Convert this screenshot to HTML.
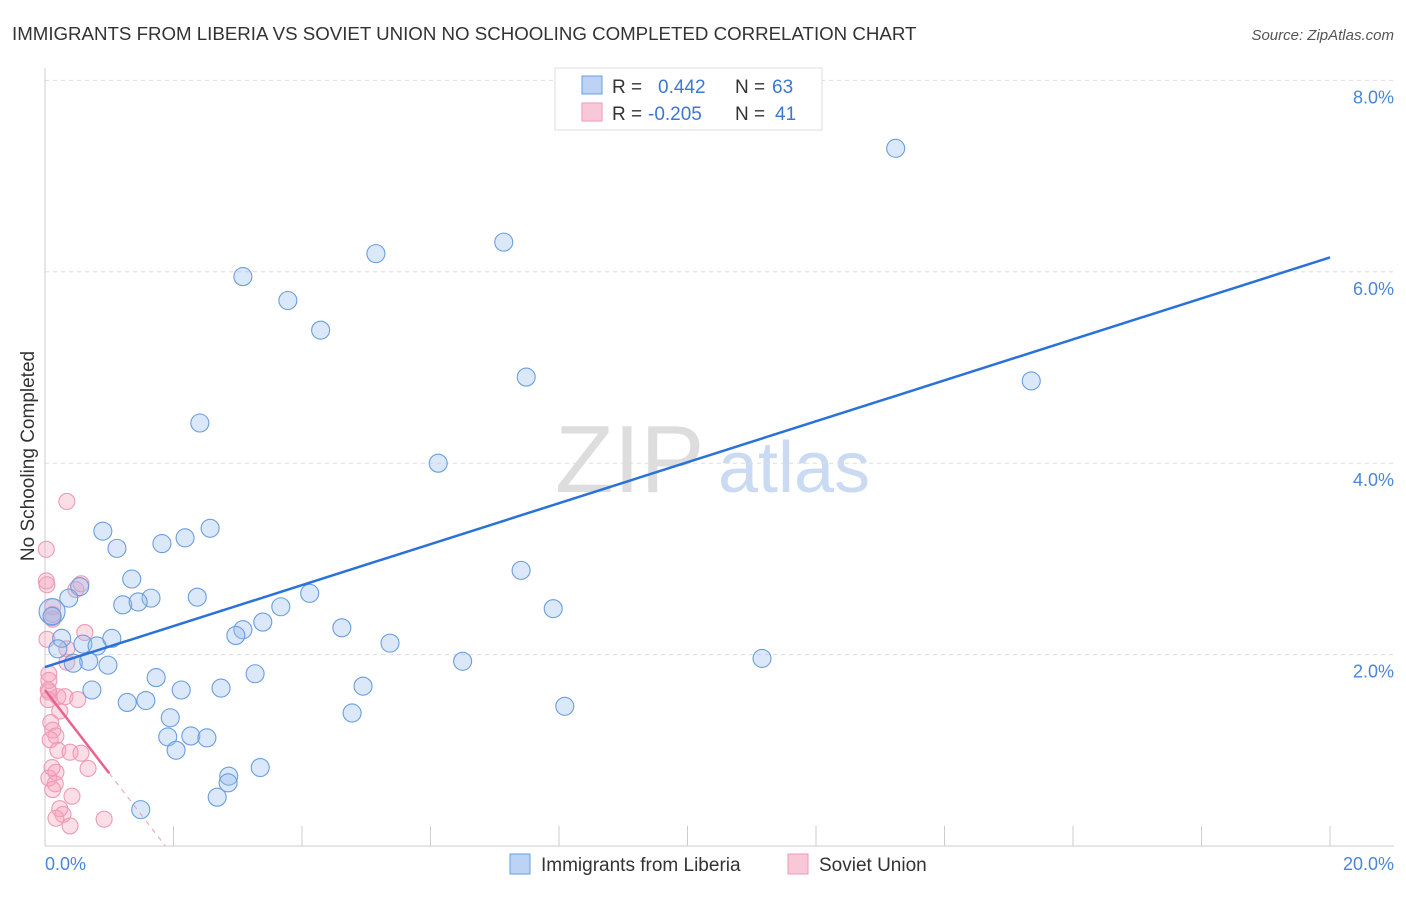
<!DOCTYPE html>
<html><head><meta charset="utf-8"><style>
body{margin:0;background:#fff;font-family:"Liberation Sans",sans-serif}
svg text{font-family:"Liberation Sans",sans-serif}
</style></head><body>
<svg width="1406" height="892">
<text x="12" y="40" font-size="18.7" fill="#333">IMMIGRANTS FROM LIBERIA VS SOVIET UNION NO SCHOOLING COMPLETED CORRELATION CHART</text>
<text x="1394" y="40" font-size="15" fill="#555" text-anchor="end" font-style="italic">Source: ZipAtlas.com</text>
<text x="555" y="492" font-size="96" fill="#ddd" font-family="Liberation Serif">ZIP</text>
<text x="718" y="492" font-size="72" fill="#c9daf2">atlas</text>
<g id="grid"></g>
<line x1="45" y1="68" x2="45" y2="846" stroke="#ccc"/>
<line x1="45" y1="846" x2="1394" y2="846" stroke="#ccc"/>
<text x="34" y="456" font-size="19" fill="#333" text-anchor="middle" transform="rotate(-90 34 456)">No Schooling Completed</text>
<text x="45" y="870" font-size="18" fill="#4a86d8">0.0%</text>
<text x="1394" y="870" font-size="18" fill="#4a86d8" text-anchor="end">20.0%</text>
<g id="pts"></g>
<g id="trends"></g>
<g>
<rect x="555" y="68" width="267" height="62" fill="#fff" stroke="#ddd"/>
<rect x="582" y="76" width="20" height="18" fill="#bcd3f5" stroke="#6a9de0"/>
<rect x="582" y="103" width="20" height="18" fill="#f9c8d6" stroke="#ee9ab4"/>
<text x="612" y="93" font-size="19" fill="#333">R =</text>
<text x="658" y="93" font-size="19" fill="#3a78d4">0.442</text>
<text x="735" y="93" font-size="19" fill="#333">N =</text>
<text x="772" y="93" font-size="19" fill="#3a78d4">63</text>
<text x="612" y="120" font-size="19" fill="#333">R =</text>
<text x="648" y="120" font-size="19" fill="#3a78d4">-0.205</text>
<text x="735" y="120" font-size="19" fill="#333">N =</text>
<text x="775" y="120" font-size="19" fill="#3a78d4">41</text>
</g>
<g>
<rect x="510" y="854" width="20" height="20" fill="#bcd3f5" stroke="#6a9de0"/>
<text x="541" y="871" font-size="19" fill="#333">Immigrants from Liberia</text>
<rect x="788" y="854" width="20" height="20" fill="#f9c8d6" stroke="#ee9ab4"/>
<text x="819" y="871" font-size="19" fill="#333">Soviet Union</text>
</g>
</svg>
<script>
const yTicks=[2,4,6,8];
const yTickLabels=["2.0%","4.0%","6.0%","8.0%"];
const xTicks=[2,4,6,8,10,12,14,16,18,20];
const blueX=[13.24,7.14,5.15,3.08,3.78,4.29,7.49,15.35,2.41,6.12,0.9,1.12,2.57,1.82,2.18,7.41,1.35,0.54,0.37,2.37,1.65,1.21,1.45,4.12,3.67,7.91,3.39,3.08,2.97,4.62,0.11,0.11,0.26,0.2,0.59,0.81,1.04,5.37,0.68,0.44,0.98,6.5,11.16,3.27,1.73,0.73,2.12,2.74,4.95,1.28,1.57,1.95,4.78,8.09,1.91,2.27,2.52,2.04,2.86,3.35,2.85,2.68,1.49];
const blueY=[7.29,6.31,6.19,5.95,5.7,5.39,4.9,4.86,4.42,4.0,3.29,3.11,3.32,3.16,3.22,2.88,2.79,2.71,2.59,2.6,2.59,2.52,2.55,2.64,2.5,2.48,2.34,2.26,2.2,2.28,2.45,2.4,2.17,2.06,2.11,2.09,2.17,2.12,1.93,1.91,1.89,1.93,1.96,1.8,1.76,1.63,1.63,1.65,1.67,1.5,1.52,1.34,1.39,1.46,1.14,1.15,1.13,1.0,0.73,0.82,0.66,0.51,0.38];
const pinkX=[0.34,0.02,0.02,0.03,0.56,0.48,0.12,0.12,0.62,0.34,0.34,0.06,0.06,0.05,0.2,0.31,0.51,0.23,0.09,0.12,0.17,0.08,0.2,0.39,0.56,0.11,0.17,0.06,0.67,0.16,0.12,0.42,0.23,0.28,0.17,0.39,0.92,0.06,0.05,0.12,0.03];
const pinkY=[3.6,3.1,2.77,2.73,2.74,2.68,2.42,2.37,2.23,2.06,1.92,1.8,1.73,1.63,1.56,1.56,1.53,1.41,1.29,1.21,1.15,1.11,1.0,0.98,0.97,0.82,0.77,0.71,0.81,0.65,0.59,0.52,0.39,0.33,0.29,0.21,0.28,1.61,1.53,2.5,2.16];
const blueFit=[1.87,6.15];
const pinkFit=[1.63,0.76];
const X=v=>45+v*64.25, Y=v=>846-v*95.7;
const NS='http://www.w3.org/2000/svg';
function mk(t,a,p){const e=document.createElementNS(NS,t);for(const k in a)e.setAttribute(k,a[k]);p.appendChild(e);return e;}
const grid=document.getElementById('grid');
yTicks.forEach((v,i)=>{
 const l=mk('line',{x1:45,x2:1394,y1:Y(v),y2:Y(v),stroke:'#ddd','stroke-dasharray':'4,4'},grid);
 
 
 const t=mk('text',{x:1394,y:Y(v)+23,'font-size':18,fill:'#4a86d8','text-anchor':'end'},grid);
 t.textContent=yTickLabels[i];
 
 
});
xTicks.forEach(v=>{
 const l=mk('line',{x1:X(v),x2:X(v),y1:826,y2:846,stroke:'#ccc'},grid);
 
 
});
const pts=document.getElementById('pts');
pinkX.forEach((v,i)=>{
 const c=mk('circle',{cx:X(v),cy:Y(pinkY[i]),r:8,fill:'rgba(245,160,185,0.35)',stroke:'#ee9ab4','stroke-width':1.1},pts);
 
 
});
blueX.forEach((v,i)=>{
 const c=mk('circle',{cx:X(v),cy:Y(blueY[i]),r:(i==30?13:9),fill:'rgba(150,188,238,0.35)',stroke:'#6a9de0','stroke-width':1.1},pts);
 
 
});
const tr=document.getElementById('trends');
const b=mk('line',{x1:X(0),y1:Y(blueFit[0]),x2:X(20),y2:Y(blueFit[1]),stroke:'#2a72d6','stroke-width':2.5},tr);


const slope=(pinkFit[1]-pinkFit[0]);
const p=mk('line',{x1:X(0),y1:Y(pinkFit[0]),x2:X(1),y2:Y(pinkFit[1]),stroke:'#e8628d','stroke-width':2.5},tr);


const pd=mk('line',{x1:X(1),y1:Y(pinkFit[1]),x2:X(1.87),y2:Y(pinkFit[0]+slope*1.87),stroke:'#e8a0b8','stroke-width':1,'stroke-dasharray':'5,5'},tr);


</script>
</body></html>
